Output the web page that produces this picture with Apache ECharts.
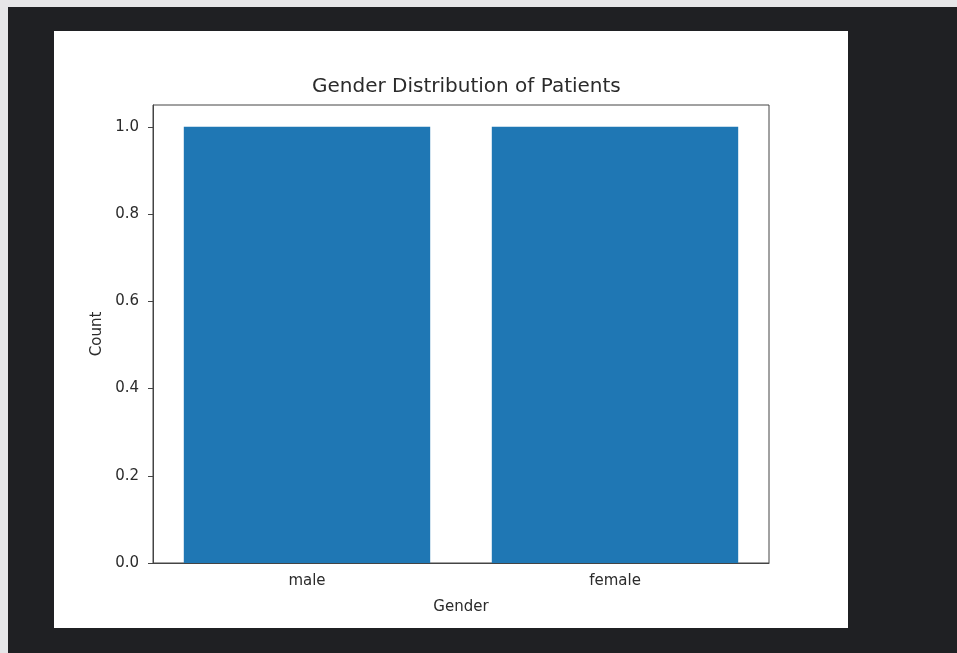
<!DOCTYPE html>
<html>
<head>
<meta charset="utf-8">
<script src="https://cdn.jsdelivr.net/npm/echarts@6/dist/echarts.min.js"></script>
<style>
    html, body { margin: 0; padding: 0; width: 957px; height: 653px; background: #e6e6e8; overflow: hidden; }
    #frame { position: absolute; left: 8px; top: 7px; width: 949px; height: 646px; background: #1f2023; }
    #chart { position: absolute; left: 54px; top: 31px; width: 794px; height: 597px; background: #ffffff; }
</style>
</head>
<body>
<div id="frame"></div>
<div id="chart"></div>
<script>
const categories = ['male', 'female']
const counts = [1, 1]
const yTicks = [0, 0.2, 0.4, 0.6, 0.8, 1.0]

const textColor = '#2b2b2b'
const lineColor = '#444'
const font = 'DejaVu Sans'

let Charts = echarts.init(document.getElementById('chart'))
Charts.setOption({
    animation: false,
    title: {
        text: 'Gender Distribution of Patients',
        left: 253,
        top: 41,
        textStyle: {
            fontFamily: font,
            fontSize: 20,
            fontWeight: 'normal',
            color: textColor
        }
    },
    grid: {
        left: 99,
        right: 79,
        top: 74,
        bottom: 65,
        show: true,
        borderColor: lineColor,
        borderWidth: 1
    },
    xAxis: {
        type: 'category',
        data: categories,
        name: 'Gender',
        nameLocation: 'middle',
        nameGap: 37,
        nameTextStyle: { fontFamily: font, fontSize: 15, color: textColor },
        axisLine: { lineStyle: { color: lineColor } },
        axisTick: { alignWithLabel: true, length: 5, lineStyle: { color: lineColor } },
        axisLabel: { margin: 11, fontFamily: font, fontSize: 15, color: textColor }
    },
    yAxis: {
        type: 'value',
        min: 0,
        max: 1.05,
        interval: 0.2,
        name: 'Count',
        nameLocation: 'middle',
        nameGap: 48,
        nameTextStyle: { fontFamily: font, fontSize: 15, color: textColor },
        axisLine: { show: true, lineStyle: { color: lineColor } },
        axisTick: { show: true, length: 5, customValues: yTicks, lineStyle: { color: lineColor } },
        axisLabel: {
            customValues: yTicks,
            margin: 14,
            fontFamily: font,
            fontSize: 15,
            color: textColor,
            formatter: v => v.toFixed(1)
        },
        splitLine: { show: false }
    },
    series: [{
        name: 'Count',
        type: 'bar',
        data: counts,
        barWidth: '80%',
        itemStyle: { color: '#1f77b4' }
    }]
})
</script>
</body>
</html>
